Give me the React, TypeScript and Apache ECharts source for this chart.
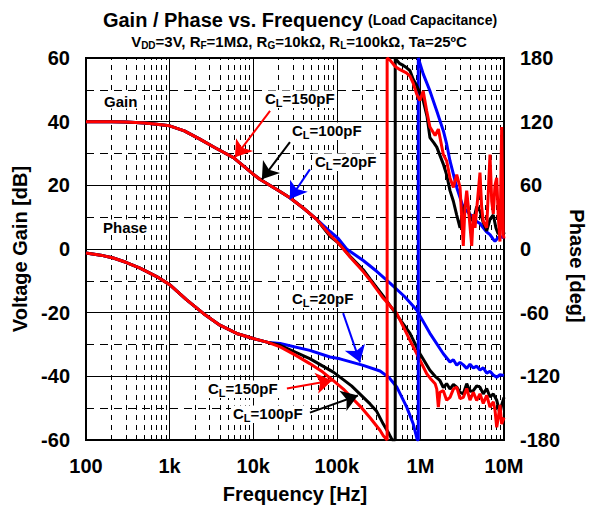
import React, { useEffect, useRef } from "react";
import * as echarts from "echarts";

const FONT = "'Liberation Sans', Arial, sans-serif";

// Frequency axis labels (decades)
const decadeFreqs = [100, 1e3, 1e4, 1e5, 1e6, 1e7];
const decadeLabels = ["100", "1k", "10k", "100k", "1M", "10M"];
const minorMultipliers = [2, 3, 4, 5, 6, 7, 8, 9];

// Closed-loop gain [Hz, dB]; common low-frequency part
const gainLow: [number, number][] = [
  [100, 40], [200, 40], [300, 39.9], [500, 39.6], [700, 39.2], [1e3, 38.7],
  [1.5e3, 37.1], [2.3e3, 34.5], [3.5e3, 31.8], [5.8e3, 28.7], [1e4, 23.5],
  [1.2e4, 21.9], [2e4, 18.4], [2.75e4, 16.1], [4e4, 12.8], [5.75e4, 9.3],
];
const gainTail150: [number, number][] = [
  [8.3e4, 4.4], [1.04e5, 1.9], [1.2e5, 0], [1.44e5, -2.5], [2.07e5, -7.1], [2.5e5, -9.8],
  [3.6e5, -15.5], [4.74e5, -19], [5.21e5, -20.2], [7.51e5, -28.7], [9.44e5, -33.9],
  [1.19e6, -39.2], [1.3e6, -40.5], [1.5e6, -42.3], [1.57e6, -44], [1.64e6, -49.7],
  [1.71e6, -45], [1.88e6, -44.5], [2.06e6, -47.5], [2.26e6, -46.6], [2.48e6, -44],
  [2.72e6, -43.4], [2.98e6, -47], [3.26e6, -46.6], [3.58e6, -43.8], [3.92e6, -47.5],
  [4.3e6, -45], [4.71e6, -47.6], [5.16e6, -45.5], [5.65e6, -48.5], [6.21e6, -46],
  [6.8e6, -49.7], [7.45e6, -48], [7.8e6, -50.5], [8.18e6, -56], [8.55e6, -53],
  [8.95e6, -49], [9.38e6, -55], [1e7, -52.9],
];
const gainTail100: [number, number][] = [
  [8.3e4, 4.0], [1.04e5, 1.9], [1.2e5, 0.1], [1.44e5, -2.3], [2.07e5, -6.5], [2.5e5, -9.4],
  [3.6e5, -14.8], [4.74e5, -19.2], [7.51e5, -26.5], [9.89e5, -32.9], [1.3e6, -38.1],
  [1.5e6, -40], [1.71e6, -41.3], [1.88e6, -43.5], [2.06e6, -42.3], [2.26e6, -44],
  [2.48e6, -42.5], [2.72e6, -43.4], [2.98e6, -45], [3.26e6, -45.5], [3.58e6, -42.3],
  [3.92e6, -44.7], [4.3e6, -44.5], [4.71e6, -43], [5.16e6, -43.4], [5.65e6, -45.5],
  [6.21e6, -43.8], [6.8e6, -46.5], [7.45e6, -45.5], [8.18e6, -47.5], [8.95e6, -51.8],
  [9.38e6, -49], [1e7, -46.6],
];
const gainTail20: [number, number][] = [
  [8.3e4, 5.5], [1.04e5, 3.3], [1.31e5, 0], [2.07e5, -3.6], [3.0e5, -7.0], [4.33e5, -10.7],
  [6.5e5, -15], [9.03e5, -19.2], [1.3e6, -26.5], [1.88e6, -32.9], [2.26e6, -35.5],
  [2.48e6, -34.8], [2.72e6, -36.5], [2.98e6, -35.6], [3.26e6, -36.4], [3.58e6, -37.5],
  [3.92e6, -36.2], [4.3e6, -37.4], [4.71e6, -36.8], [5.16e6, -38], [5.65e6, -37.3],
  [6.21e6, -39], [6.8e6, -38.4], [7.45e6, -39.6], [8.18e6, -40.3], [8.95e6, -39.5],
  [1e7, -39.7],
];

// Phase [Hz, deg]; common low-frequency part
const phaseLow: [number, number][] = [
  [100, -3.8], [150, -5.8], [212, -8.5], [300, -12.5], [443, -18], [701, -26],
  [1010, -33.8], [1600, -48], [2530, -60.7], [4000, -71.8], [6350, -79.6],
  [1e4, -84.4], [1.5e4, -88],
];
const phaseTail150: [number, number][] = [
  [2.1e4, -92.3], [3.2e4, -100], [4.75e4, -108], [6.8e4, -116], [9.1e4, -124],
  [1.2e5, -132], [1.5e5, -140], [2.0e5, -150], [2.5e5, -159], [3.3e5, -171],
  [3.6e5, -176], [4.0e5, -180], [4.0e5, 180], [4.33e5, 178], [5.0e5, 172], [5.7e5, 169],
  [6.8e5, 166], [7.51e5, 163], [8.22e5, 156], [9.03e5, 146], [9.89e5, 140], [1.08e6, 149],
  [1.19e6, 130], [1.3e6, 115], [1.5e6, 107], [1.64e6, 113], [1.88e6, 89], [2.06e6, 83],
  [2.26e6, 67], [2.48e6, 58], [2.72e6, 70], [2.98e6, 58], [3.26e6, 3], [3.41e6, 39],
  [3.58e6, 55], [3.74e6, 40], [4.11e6, 3], [4.3e6, 33], [4.5e6, 20], [5.16e6, 72],
  [5.4e6, 40], [5.65e6, 26], [6.21e6, 20], [6.8e6, 89], [7.13e6, 45], [7.45e6, 33],
  [7.8e6, 60], [8.18e6, 67], [8.55e6, 30], [8.95e6, 7], [9.38e6, 115], [9.8e6, 14],
  [1e7, 10],
];
const phaseTail100: [number, number][] = [
  [2.1e4, -90.7], [4.75e4, -103.3], [9.1e4, -116], [1.5e5, -129], [2.5e5, -146],
  [3.0e5, -153], [3.6e5, -165], [4.2e5, -174], [4.6e5, -180], [5.0e5, -180], [5.0e5, 180],
  [5.21e5, 178], [5.6e5, 175], [6.24e5, 173], [6.8e5, 171], [7.51e5, 168], [8.2e5, 160],
  [9.03e5, 154], [1.0e6, 146], [1.08e6, 140], [1.2e6, 125], [1.3e6, 105], [1.45e6, 100],
  [1.57e6, 96], [1.88e6, 80], [2.06e6, 70], [2.26e6, 55], [2.48e6, 45], [2.72e6, 32],
  [2.98e6, 20], [3.26e6, 38], [3.58e6, 45], [3.92e6, 30], [4.3e6, 26], [4.71e6, 40],
  [5.16e6, 36], [5.65e6, 25], [6.21e6, 17], [6.8e6, 28], [7.45e6, 32], [8.0e6, 20],
  [8.55e6, 14], [9.38e6, 26], [1e7, 14],
];
const phaseTail20: [number, number][] = [
  [2.1e4, -89], [4.75e4, -95.5], [8.3e4, -101.8], [1.09e5, -103.5], [2.07e5, -109.7],
  [3.29e5, -115], [4.2e5, -121], [5.21e5, -130], [6.86e5, -149], [8.22e5, -165],
  [9.18e5, -180], [9.44e5, -180], [9.44e5, 180], [1.08e6, 165], [1.3e6, 149], [1.57e6, 130],
  [1.88e6, 111.5], [2.06e6, 99], [2.26e6, 83], [2.72e6, 58], [3.26e6, 39], [3.58e6, 36],
  [3.92e6, 32.5], [4.3e6, 30], [4.71e6, 26], [5.16e6, 24], [5.65e6, 20], [6.21e6, 16],
  [6.8e6, 13.6], [7.45e6, 9], [7.8e6, 7.2], [8.55e6, 11], [8.95e6, 12], [1e7, 10.4],
];

const RED = "#ff0000";
const BLACK = "#000000";
const BLUE = "#0000ff";

const labelRich = {
  a: { fontFamily: FONT, fontWeight: "bold", fontSize: 15, lineHeight: 20, color: "#000" },
  s: { fontFamily: FONT, fontWeight: "bold", fontSize: 11, lineHeight: 10, verticalAlign: "bottom", color: "#000" },
};

// Text box on a white patch, positioned by its left edge and vertical centre
function noteText(x: number, y: number, text: string) {
  return {
    text,
    left: x - 2,
    top: y - 10,
    padding: [0, 2],
    backgroundColor: "#fff",
    z: 8,
    textStyle: { rich: labelRich },
  };
}

function arrow(color: string, from: [number, number], to: [number, number]) {
  return {
    silent: true,
    z: 6,
    symbol: ["none", "arrow"],
    symbolSize: 16,
    label: { show: false },
    lineStyle: { color, width: 2, type: "solid" },
    data: [[{ coord: from }, { coord: to }]],
  };
}

export default function App() {
  const ref = useRef<HTMLDivElement>(null);

  useEffect(() => {
    if (!ref.current) return;
    const chart = echarts.init(ref.current, undefined, { renderer: "svg" });

    const minorLines: { xAxis: number }[] = [];
    decadeFreqs.slice(0, -1).forEach((d) =>
      minorMultipliers.forEach((m) => minorLines.push({ xAxis: d * m }))
    );

    const lineSeries = (name: string, color: string, data: [number, number][], yAxisIndex: number, extra = {}) => ({
      name,
      type: "line",
      yAxisIndex,
      data,
      showSymbol: false,
      symbol: "none",
      lineStyle: { color, width: 3 },
      itemStyle: { color },
      z: 3,
      ...extra,
    });

    const axisFont = { fontFamily: FONT, fontWeight: "bold", fontSize: 20, color: "#000" };

    chart.setOption({
      animation: false,
      backgroundColor: "#fff",
      textStyle: { fontFamily: FONT },
      title: [
        {
          text: "{t|Gain / Phase vs. Frequency} {u|(Load Capacitance)}",
          left: 295,
          textAlign: "center",
          top: 5,
          textStyle: {
            rich: {
              t: { fontFamily: FONT, fontWeight: "bold", fontSize: 20, color: "#000" },
              u: { fontFamily: FONT, fontWeight: "bold", fontSize: 14, color: "#000" },
            },
          },
        },
        {
          text:
            "{a|V}{s|DD}{a|=3V, R}{s|F}{a|=1MΩ, R}{s|G}{a|=10kΩ, R}{s|L}{a|=100kΩ, Ta=25ºC}",
          left: 294,
          textAlign: "center",
          top: 27,
          textStyle: {
            rich: {
              a: { fontFamily: FONT, fontWeight: "bold", fontSize: 15, lineHeight: 18, color: "#000" },
              s: { fontFamily: FONT, fontWeight: "bold", fontSize: 10, lineHeight: 9, verticalAlign: "bottom", color: "#000" },
            },
          },
        },
        noteText(104, 101, "{a|Gain}"),
        noteText(103, 227, "{a|Phase}"),
        noteText(265, 98, "{a|C}{s|L}{a|=150pF}"),
        noteText(292, 130, "{a|C}{s|L}{a|=100pF}"),
        noteText(315, 161, "{a|C}{s|L}{a|=20pF}"),
        noteText(292, 298, "{a|C}{s|L}{a|=20pF}"),
        noteText(208, 388, "{a|C}{s|L}{a|=150pF}"),
        noteText(233, 413, "{a|C}{s|L}{a|=100pF}"),
      ],
      grid: {
        left: 86,
        right: 89,
        top: 58,
        bottom: 72,
        show: true,
        borderColor: "#000",
        borderWidth: 2,
        backgroundColor: "#fff",
      },
      xAxis: {
        type: "log",
        logBase: 10,
        min: 100,
        max: 1e7,
        name: "Frequency [Hz]",
        nameLocation: "middle",
        nameGap: 44,
        nameTextStyle: axisFont,
        axisLine: { show: false },
        axisTick: { show: false },
        axisLabel: {
          margin: 16,
          ...axisFont,
          formatter: (v: number) => {
            const i = decadeFreqs.findIndex((d) => Math.abs(Math.log10(d) - Math.log10(v)) < 1e-6);
            return i >= 0 ? decadeLabels[i] : "";
          },
        },
        splitLine: { show: true, lineStyle: { color: "#000", width: 1 } },
      },
      yAxis: [
        {
          type: "value",
          min: -60,
          max: 60,
          interval: 20,
          name: "Voltage Gain [dB]",
          nameLocation: "middle",
          nameGap: 54,
          nameTextStyle: axisFont,
          axisLine: { show: false },
          axisTick: { show: false },
          axisLabel: { margin: 16, ...axisFont },
          splitLine: { show: true, lineStyle: { color: "#000", width: 1 } },
          minorTick: { show: false, splitNumber: 2 },
          minorSplitLine: { show: true, lineStyle: { color: "#000", width: 1, type: [8, 6] } },
        },
        {
          type: "value",
          min: -180,
          max: 180,
          interval: 60,
          position: "right",
          axisLine: { show: false },
          axisTick: { show: false },
          axisLabel: { margin: 16, ...axisFont },
          splitLine: { show: false },
        },
      ],
      series: [
        {
          name: "grid-minor",
          type: "line",
          data: [],
          z: 1,
          markLine: {
            silent: true,
            z: 1,
            symbol: ["none", "none"],
            label: { show: false },
            lineStyle: { color: "#000", width: 1, type: [5, 5] },
            data: minorLines,
          },
        },
        lineSeries("Gain CL=20pF", BLUE, [...gainLow, ...gainTail20], 0, {
          markLine: arrow(BLUE, [4.77e4, 25], [2.75e4, 15.7]),
        }),
        lineSeries("Gain CL=100pF", BLACK, [...gainLow, ...gainTail100], 0, {
          markLine: arrow(BLACK, [2.75e4, 33.6], [1.27e4, 21.9]),
        }),
        lineSeries("Gain CL=150pF", RED, [...gainLow, ...gainTail150], 0, {
          markLine: arrow(RED, [1.59e4, 43.4], [6.05e3, 28.8]),
        }),
        lineSeries("Phase CL=20pF", BLUE, [...phaseLow, ...phaseTail20], 1, {
          markLine: arrow(BLUE, [1.19e5, -60.4], [1.9e5, -106.8]),
        }),
        lineSeries("Phase CL=100pF", BLACK, [...phaseLow, ...phaseTail100], 1, {
          markLine: arrow(BLACK, [4.77e4, -154.2], [1.79e5, -138.1]),
        }),
        lineSeries("Phase CL=150pF", RED, [...phaseLow, ...phaseTail150], 1, {
          markLine: arrow(RED, [2.53e4, -131.5], [8.77e4, -123.9]),
        }),
      ],
      graphic: [
        {
          type: "text",
          x: 577,
          y: 266,
          rotation: -Math.PI / 2,
          z: 10,
          style: {
            text: "Phase [deg]",
            font: `bold 20px ${FONT}`,
            fill: "#000",
            align: "center",
            verticalAlign: "middle",
          },
        },
      ],
    });

    return () => chart.dispose();
  }, []);

  return (
    <div
      ref={ref}
      style={{ position: "absolute", left: 0, top: 0, width: 593, height: 512 }}
    />
  );
}
